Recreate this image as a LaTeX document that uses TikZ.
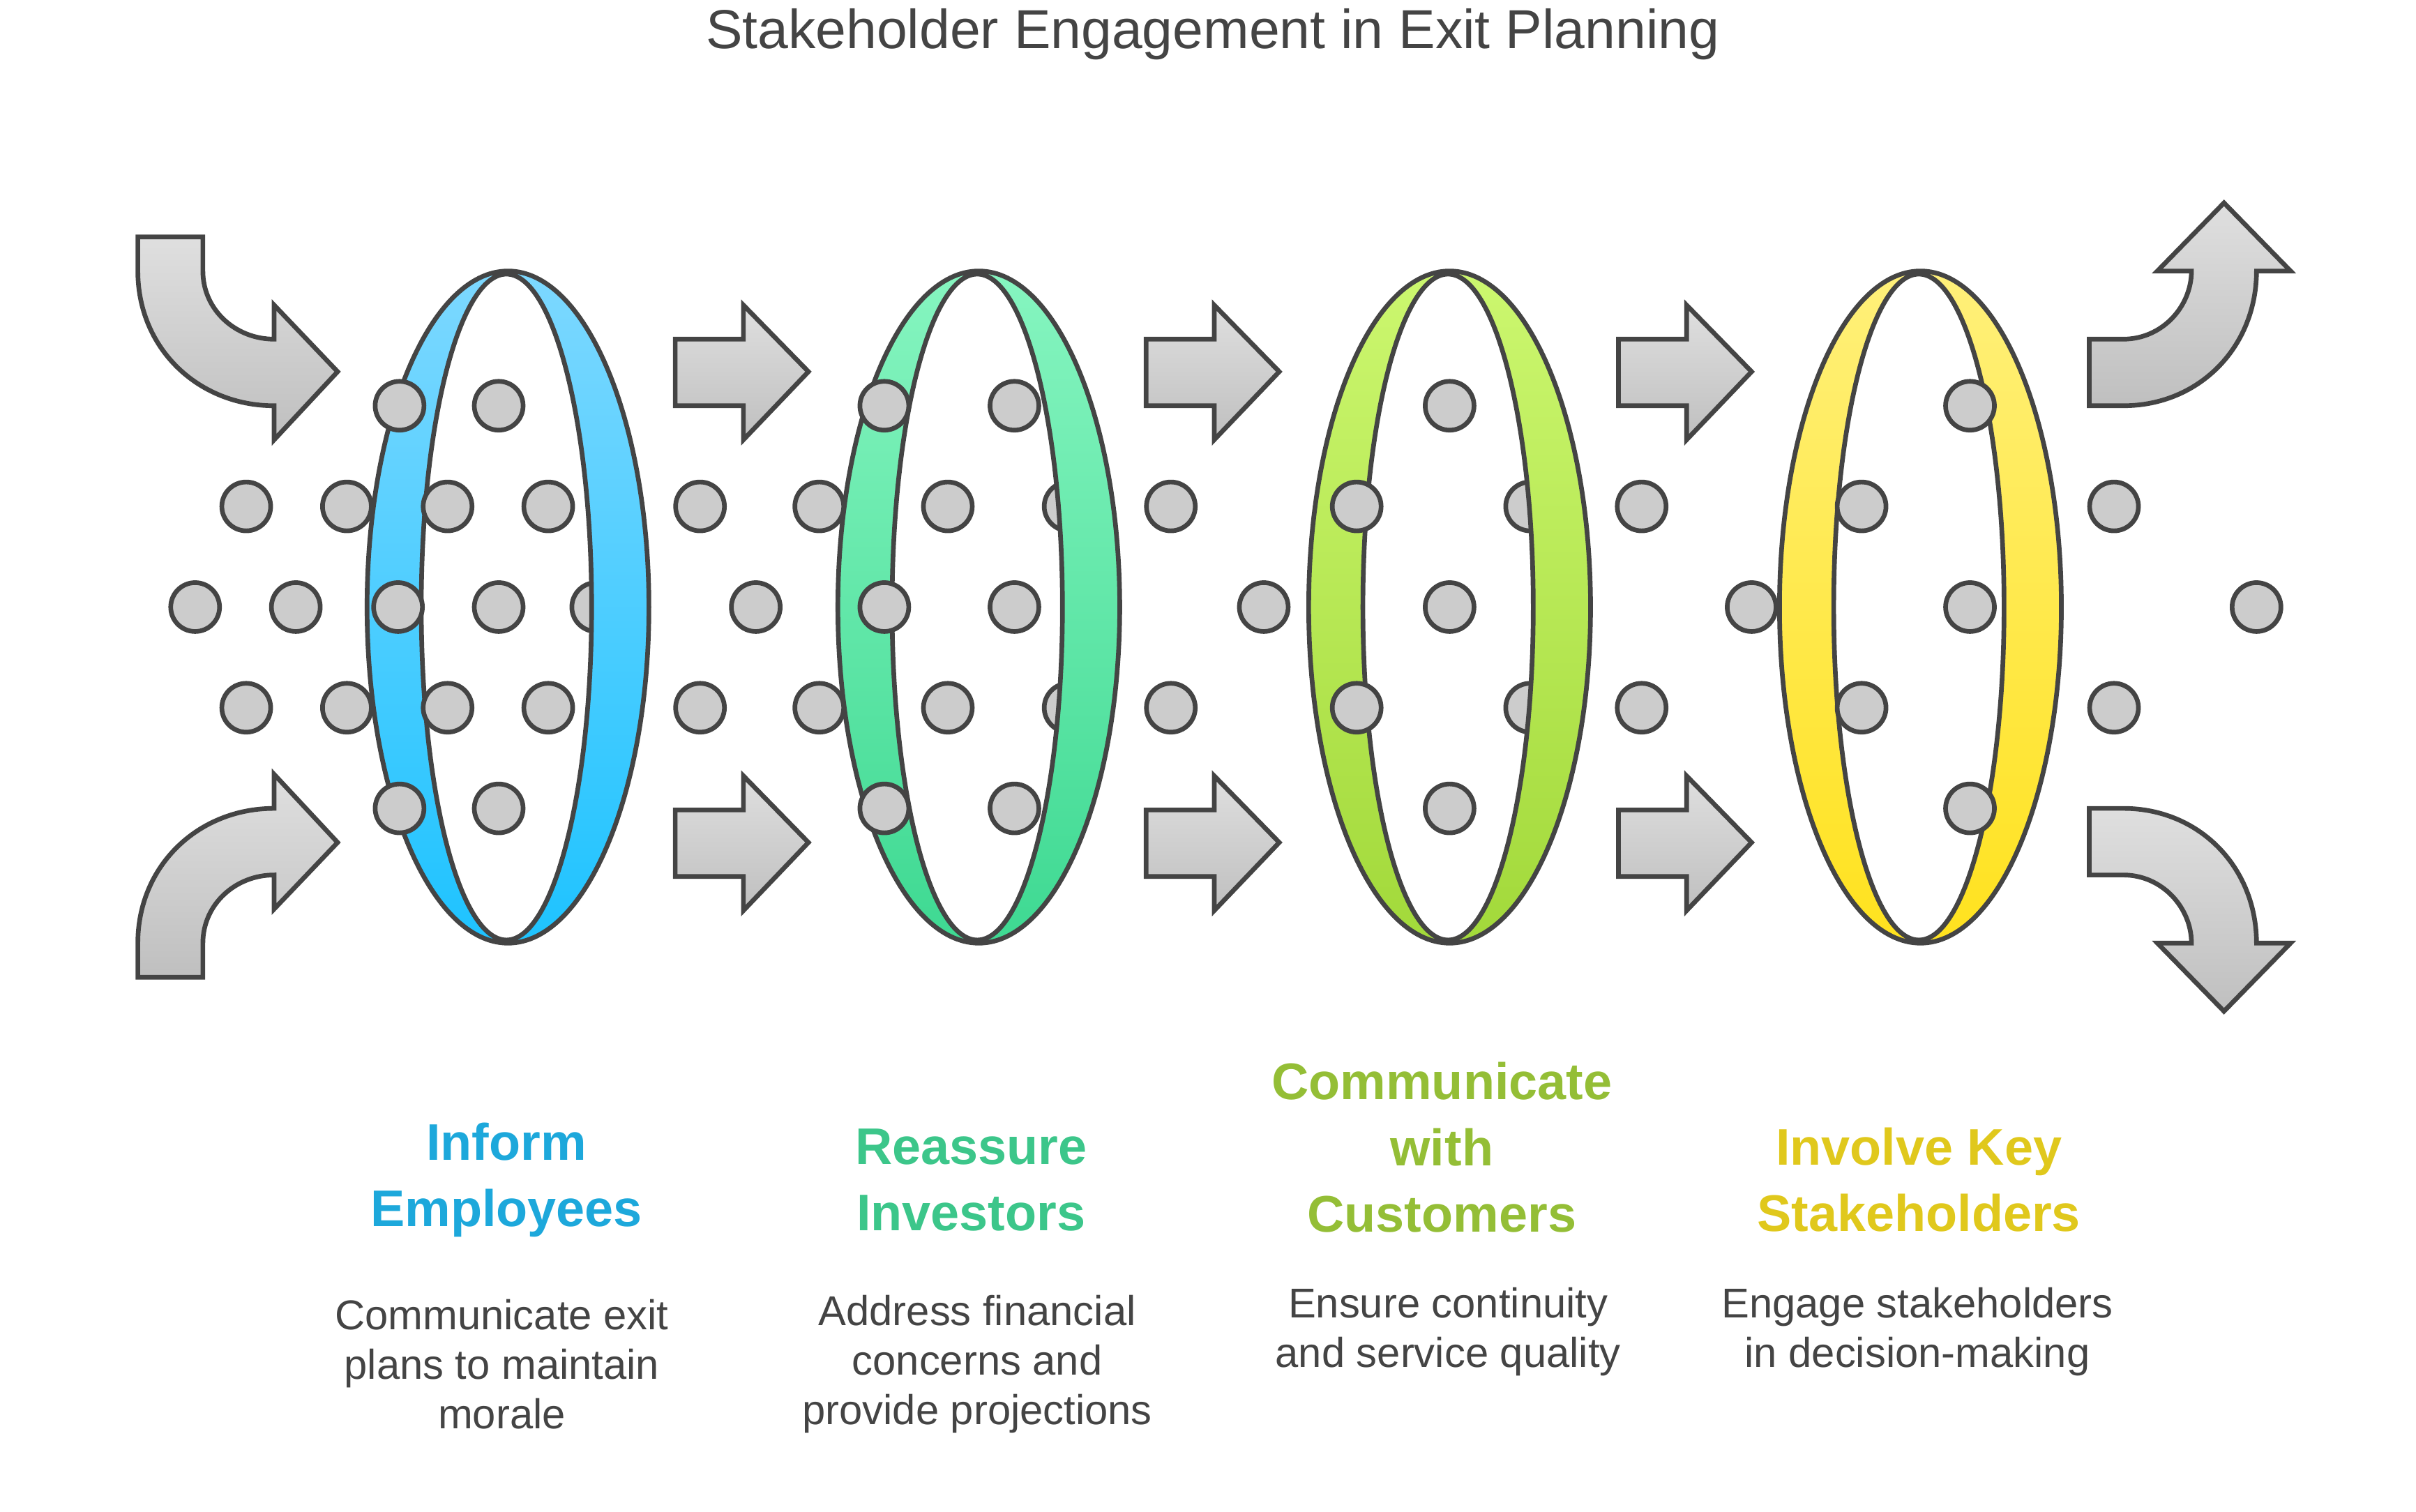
\documentclass[tikz,border=0pt]{standalone}
\usepackage{fontspec}
\setmainfont{Liberation Sans}
\definecolor{edge}{HTML}{444444}
\definecolor{dotgray}{HTML}{CCCCCC}
\definecolor{blueA}{HTML}{7DD8FF}\definecolor{blueB}{HTML}{1EC3FF}
\definecolor{greenA}{HTML}{86F5C0}\definecolor{greenB}{HTML}{3ED992}
\definecolor{limeA}{HTML}{CCF76F}\definecolor{limeB}{HTML}{A2D93A}
\definecolor{yelA}{HTML}{FFF07A}\definecolor{yelB}{HTML}{FFE21E}
\definecolor{blueT}{HTML}{1DA8DB}\definecolor{greenT}{HTML}{3CC68A}
\definecolor{limeT}{HTML}{94BE36}\definecolor{yelT}{HTML}{E0C81C}
\tikzset{
  dot/.style={circle,draw=edge,fill=dotgray,line width=1.9pt,minimum size=0.70cm,inner sep=0pt},
  arr/.style={draw=edge,line width=1.9pt,top color=gray!25,bottom color=gray!50},
  ring/.style={draw=edge,line width=1.9pt,even odd rule},
  head/.style={font=\bfseries\fontsize{21}{27}\selectfont,align=center},
  desc/.style={font=\fontsize{17}{20.2}\selectfont,align=center,text=edge}
}
\begin{document}
\begin{tikzpicture}[x=0.0222cm,y=-0.0222cm]
\useasboundingbox (0,0) rectangle (1560,976);
\node[font=\fontsize{22.4}{26}\selectfont,text=edge] (title) at (783,22) {Stakeholder Engagement in Exit Planning};

% dots partly hidden by the rings
\node[dot] (d1h) at (385,392) {};
\node[dot] (d2a) at (690,327) {};
\node[dot] (d2b) at (690,457) {};
\node[dot] (d3a) at (988,327) {};
\node[dot] (d3b) at (988,457) {};

% rings
\path[ring,top color=blueA,bottom color=blueB] (328,392) ellipse [x radius=91,y radius=217] (327,392) ellipse [x radius=55,y radius=215];
\path[ring,top color=greenA,bottom color=greenB] (632,392) ellipse [x radius=91,y radius=217] (631,392) ellipse [x radius=55,y radius=215];
\path[ring,top color=limeA,bottom color=limeB] (936,392) ellipse [x radius=91,y radius=217] (935,392) ellipse [x radius=55,y radius=215];
\path[ring,top color=yelA,bottom color=yelB] (1240,392) ellipse [x radius=91,y radius=217] (1239,392) ellipse [x radius=55,y radius=215];

% dots
\foreach \x/\y [count=\i] in {258/262,322/262,159/327,224/327,289/327,354/327,126/392,191/392,257/392,322/392,159/457,224/457,289/457,354/457,258/522,322/522,
  452/327,529/327,612/327,488/392,571/392,655/392,452/457,529/457,612/457,571/262,655/262,571/522,655/522,756/327,756/457,
  816/392,876/327,936/262,936/392,876/457,936/522,1060/327,1060/457,
  1131/392,1202/327,1272/262,1272/392,1202/457,1272/522,1365/327,1365/457,1457/392}
  \node[dot] (d\i) at (\x,\y) {};

% straight arrows
\foreach \x [count=\i] in {436,740,1045}{
  \path[arr] (\x,219) -- (\x+44,219) -- (\x+44,197) -- (\x+86,240) -- (\x+44,284) -- (\x+44,262) -- (\x,262) -- cycle;
  \path[arr] (\x,523) -- (\x+44,523) -- (\x+44,501) -- (\x+86,544) -- (\x+44,588) -- (\x+44,566) -- (\x,566) -- cycle;
}

% curved arrows
\path[arr] (89,153) -- (131,153) -- (131,175) .. controls (131,200) and (152,219) .. (177,219) -- (177,197) -- (218,240) -- (177,284) -- (177,262) .. controls (128,262) and (89,225) .. (89,175) -- cycle;
\path[arr] (89,631) -- (131,631) -- (131,609) .. controls (131,584) and (152,565) .. (177,565) -- (177,587) -- (218,544) -- (177,500) -- (177,522) .. controls (128,522) and (89,559) .. (89,609) -- cycle;
\path[arr] (1349,262) -- (1349,219) -- (1371,219) .. controls (1396,219) and (1415,198) .. (1415,175) -- (1393,175) -- (1436,131) -- (1479,175) -- (1457,175) .. controls (1457,224) and (1420,262) .. (1371,262) -- cycle;
\path[arr] (1349,522) -- (1349,565) -- (1371,565) .. controls (1396,565) and (1415,586) .. (1415,609) -- (1393,609) -- (1436,653) -- (1479,609) -- (1457,609) .. controls (1457,560) and (1420,522) .. (1371,522) -- cycle;

% labels
\node[head,text=blueT] (h1) at (327,762) {Inform\\Employees};
\node[head,text=greenT] (h2) at (627,762) {Reassure\\Investors};
\node[head,text=limeT] (h3) at (931,741) {Communicate\\with\\Customers};
\node[head,text=yelT] (h4) at (1239,762) {Involve Key\\Stakeholders};
\node[desc] (t1) at (324,881) {Communicate exit\\plans to maintain\\morale};
\node[desc] (t2) at (631,881) {Address financial\\concerns and\\provide projections};
\node[desc] (t3) at (935,860) {Ensure continuity\\and service quality};
\node[desc] (t4) at (1238,860) {Engage stakeholders\\in decision-making};
\end{tikzpicture}
\end{document}
